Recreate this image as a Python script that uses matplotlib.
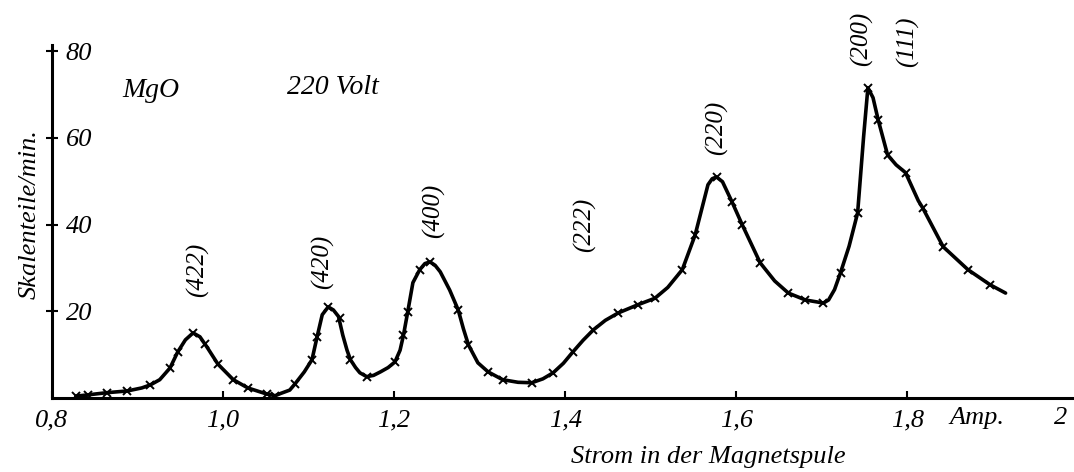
import matplotlib
matplotlib.use('Agg')
import matplotlib.pyplot as plt

# drawn curve (Strom in Amp., Skalenteile/min.)
curve_x = [0.828, 0.842, 0.864, 0.888, 0.905, 0.915, 0.926, 0.938, 0.947, 0.956,
           0.965, 0.973, 0.981, 0.994, 1.012, 1.029, 1.051, 1.061, 1.067, 1.078,
           1.084, 1.095, 1.104, 1.110, 1.116, 1.123, 1.129, 1.135, 1.140, 1.145,
           1.149, 1.155, 1.160, 1.168, 1.176, 1.184, 1.193, 1.201, 1.207, 1.211,
           1.216, 1.222, 1.230, 1.236, 1.242, 1.248, 1.254, 1.265, 1.275, 1.281,
           1.287, 1.298, 1.310, 1.327, 1.345, 1.361, 1.374, 1.386, 1.398, 1.409,
           1.421, 1.433, 1.447, 1.462, 1.485, 1.505, 1.520, 1.537, 1.552, 1.567,
           1.572, 1.577, 1.584, 1.595, 1.607, 1.628, 1.645, 1.661, 1.681, 1.702,
           1.708, 1.715, 1.722, 1.732, 1.742, 1.749, 1.754, 1.760, 1.766, 1.777,
           1.787, 1.798, 1.813, 1.818, 1.842, 1.871, 1.897, 1.915]
curve_y = [0.4, 0.7, 1.2, 1.6, 2.3, 3.0, 4.2, 6.9, 10.6, 13.4,
           15.0, 14.1, 11.8, 7.8, 4.2, 2.3, 0.9, 0.5, 1.0, 1.8,
           3.2, 6.0, 8.8, 14.1, 19.2, 21.0, 20.3, 18.8, 14.5, 11.0,
           8.8, 7.0, 5.8, 4.9, 5.2, 6.0, 7.0, 8.3, 11.0, 14.5,
           19.9, 26.6, 29.6, 31.0, 31.4, 30.6, 29.1, 24.9, 20.3, 16.0,
           12.2, 8.1, 6.0, 4.2, 3.6, 3.5, 4.4, 5.8, 8.0, 10.6,
           13.3, 15.7, 17.9, 19.6, 21.5, 23.0, 25.5, 29.6, 37.6, 49.2,
           50.6, 51.0, 49.9, 45.3, 40.0, 31.2, 27.0, 24.2, 22.6, 21.9,
           22.6, 25.0, 28.9, 35.0, 42.7, 60.3, 71.6, 69.3, 64.2, 56.1,
           53.8, 52.0, 45.5, 43.9, 34.9, 29.6, 26.1, 24.2]

# measured points (crosses)
meas_x = [0.828, 0.842, 0.864, 0.888, 0.915, 0.938, 0.947, 0.965, 0.979, 0.994,
          1.012, 1.029, 1.051, 1.061, 1.084, 1.104, 1.110, 1.123, 1.137, 1.149,
          1.168, 1.201, 1.211, 1.216, 1.230, 1.242, 1.275, 1.287, 1.310, 1.327,
          1.361, 1.386, 1.409, 1.433, 1.462, 1.485, 1.505, 1.537, 1.552, 1.577,
          1.595, 1.607, 1.628, 1.661, 1.681, 1.702, 1.722, 1.742, 1.754, 1.766,
          1.777, 1.798, 1.818, 1.842, 1.871, 1.897]
meas_y = [0.4, 0.7, 1.2, 1.6, 3.0, 6.9, 10.6, 15.0, 12.5, 7.8,
          4.2, 2.3, 0.9, 0.5, 3.2, 8.8, 14.1, 21.0, 18.5, 8.8,
          4.9, 8.3, 14.5, 19.9, 29.6, 31.4, 20.3, 12.2, 6.0, 4.2,
          3.5, 5.8, 10.6, 15.7, 19.6, 21.5, 23.0, 29.6, 37.6, 51.0,
          45.3, 40.0, 31.2, 24.2, 22.6, 21.9, 28.9, 42.7, 71.6, 64.2,
          56.1, 52.0, 43.9, 34.9, 29.6, 26.1]

# reflex labels
peak_labels = ['(422)', '(420)', '(400)', '(222)', '(220)', '(200)', '(111)']
peak_x = [0.970, 1.116, 1.246, 1.423, 1.577, 1.747, 1.800]
peak_y = [29.6, 31.4, 43.2, 40.0, 62.4, 82.9, 82.2]

xticks = [0.8, 1.0, 1.2, 1.4, 1.6, 1.8]
xticklabels = ['0,8', '1,0', '1,2', '1,4', '1,6', '1,8']
yticks = [20, 40, 60, 80]

font = {'family': 'Liberation Serif', 'style': 'italic'}

fig = plt.figure(figsize=(10.74, 4.72), dpi=100)
ax = fig.add_axes([0.0484, 0.157, 0.9516, 0.748])

ax.plot(curve_x, curve_y, color='black', lw=2.6, solid_joinstyle='round',
        solid_capstyle='round')
ax.plot(meas_x, meas_y, ls='none', color='black', marker='x', ms=6, mew=1.4)

ax.set_xlim(0.8, 1.995)
ax.set_ylim(0, 81.5)

for s in ['top', 'right']:
    ax.spines[s].set_visible(False)
for s in ['left', 'bottom']:
    ax.spines[s].set_linewidth(2.2)

ax.set_xticks(xticks)
ax.set_xticklabels(xticklabels, fontdict=font, fontsize=19)
ax.set_yticks(yticks)
ax.set_yticklabels([str(v) for v in yticks], fontdict=font, fontsize=19,
                   ha='left')
ax.tick_params(axis='x', direction='in', length=5, width=1.5, pad=8)
ax.tick_params(axis='y', direction='inout', length=8, width=1.5, pad=-14)

# rest of the x tick row
ax.text(1.849, -2.0, 'Amp.', fontdict=font, fontsize=19, ha='left', va='top')
ax.text(1.979, -2.0, '2', fontdict=font, fontsize=19, ha='center', va='top',
        clip_on=False)

ax.set_xlabel('Strom in der Magnetspule', fontdict=font, fontsize=19)
ax.xaxis.set_label_coords(0.642, -0.135)
ax.set_ylabel('Skalenteile/min.', fontdict=font, fontsize=19)
ax.yaxis.set_label_coords(-0.011, 0.52)

ax.text(0.915, 71, 'MgO', fontdict=font, fontsize=20, ha='center', va='center')
ax.text(1.129, 71.6, '220 Volt', fontdict=font, fontsize=20, ha='center',
        va='center')

for lab, px, py in zip(peak_labels, peak_x, peak_y):
    ax.text(px, py, lab, fontdict=font, fontsize=18, rotation=90,
            ha='center', va='center', clip_on=False)

fig.savefig('out.png', dpi=100)
